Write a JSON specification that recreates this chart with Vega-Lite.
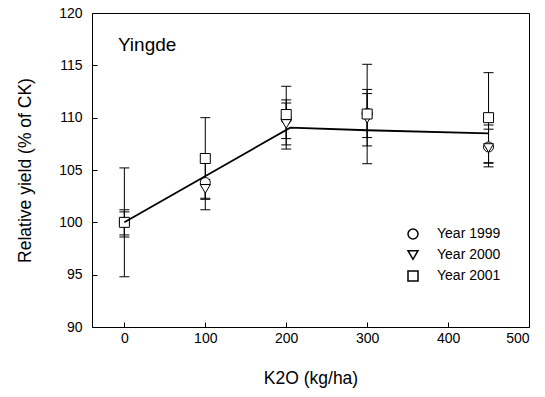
{
  "$schema": "https://vega.github.io/schema/vega-lite/v6.json",
  "width": 437,
  "height": 314,
  "autosize": {"type": "none"},
  "padding": {"left": 92, "top": 13, "right": 16, "bottom": 70},
  "background": "white",
  "datasets": {
    "obs": [
      {"year": "Year 1999", "k": 0, "mean": 100.0, "lo": 98.8, "hi": 101.2},
      {"year": "Year 1999", "k": 100, "mean": 103.8, "lo": 101.2, "hi": 106.4},
      {"year": "Year 1999", "k": 200, "mean": 109.85, "lo": 108.0, "hi": 111.7},
      {"year": "Year 1999", "k": 300, "mean": 110.4, "lo": 108.1, "hi": 112.7},
      {"year": "Year 1999", "k": 450, "mean": 107.2, "lo": 105.3, "hi": 109.3},
      {"year": "Year 2000", "k": 0, "mean": 99.9, "lo": 98.6, "hi": 101.0},
      {"year": "Year 2000", "k": 100, "mean": 103.2, "lo": 102.3, "hi": 104.1},
      {"year": "Year 2000", "k": 200, "mean": 109.4, "lo": 107.0, "hi": 111.4},
      {"year": "Year 2000", "k": 300, "mean": 109.9, "lo": 107.3, "hi": 112.3},
      {"year": "Year 2000", "k": 450, "mean": 107.1, "lo": 105.65, "hi": 108.9},
      {"year": "Year 2001", "k": 0, "mean": 100.0, "lo": 94.8, "hi": 105.2},
      {"year": "Year 2001", "k": 100, "mean": 106.1, "lo": 102.2, "hi": 110.0},
      {"year": "Year 2001", "k": 200, "mean": 110.3, "lo": 107.4, "hi": 113.0},
      {"year": "Year 2001", "k": 300, "mean": 110.35, "lo": 105.6, "hi": 115.1},
      {"year": "Year 2001", "k": 450, "mean": 110.0, "lo": 105.7, "hi": 114.3}
    ],
    "fit": [
      {"k": 0, "y": 100.0},
      {"k": 205, "y": 109.05},
      {"k": 300, "y": 108.8},
      {"k": 450, "y": 108.5}
    ],
    "label": [{"k": -8, "y": 116.9, "text": "Yingde"}]
  },
  "layer": [
    {
      "data": {"name": "obs"},
      "mark": {"type": "rule", "color": "black", "strokeWidth": 1},
      "encoding": {
        "x": {"field": "k", "type": "quantitative", "scale": {"domain": [-40, 500], "nice": false, "zero": false}, "axis": {"values": [0, 100, 200, 300, 400, 500], "title": "K2O (kg/ha)"}},
        "y": {"field": "lo", "type": "quantitative", "scale": {"domain": [90, 120], "nice": false, "zero": false}, "axis": {"values": [90, 95, 100, 105, 110, 115, 120], "title": "Relative yield (% of CK)"}},
        "y2": {"field": "hi"}
      }
    },
    {
      "data": {"name": "obs"},
      "mark": {"type": "tick", "orient": "horizontal", "size": 10, "thickness": 1, "color": "black", "opacity": 1},
      "encoding": {
        "x": {"field": "k", "type": "quantitative"},
        "y": {"field": "lo", "type": "quantitative"}
      }
    },
    {
      "data": {"name": "obs"},
      "mark": {"type": "tick", "orient": "horizontal", "size": 10, "thickness": 1, "color": "black", "opacity": 1},
      "encoding": {
        "x": {"field": "k", "type": "quantitative"},
        "y": {"field": "hi", "type": "quantitative"}
      }
    },
    {
      "data": {"name": "obs"},
      "mark": {"type": "point", "filled": true, "fill": "white", "stroke": "black", "strokeWidth": 1, "size": 100, "opacity": 1, "fillOpacity": 1},
      "encoding": {
        "x": {"field": "k", "type": "quantitative"},
        "y": {"field": "mean", "type": "quantitative"},
        "shape": {
          "field": "year", "type": "nominal",
          "scale": {"domain": ["Year 1999", "Year 2000", "Year 2001"], "range": ["circle", "triangle-down", "square"]},
          "legend": {
            "title": null, "orient": "none", "legendX": 314, "legendY": 214, "padding": 0, "rowPadding": 5, "labelOffset": 17,
            "symbolSize": 100, "labelFontSize": 14, "labelFont": "Liberation Sans", "labelColor": "black",
            "encode": {"symbols": {"update": {"fill": {"value": "white"}, "stroke": {"value": "black"}, "strokeWidth": {"value": 1}, "opacity": {"value": 1}, "fillOpacity": {"value": 1}, "strokeOpacity": {"value": 1}}}}
          }
        }
      }
    },
    {
      "data": {"name": "fit"},
      "mark": {"type": "line", "color": "black", "strokeWidth": 1.8},
      "encoding": {
        "x": {"field": "k", "type": "quantitative"},
        "y": {"field": "y", "type": "quantitative"}
      }
    },
    {
      "data": {"name": "label"},
      "mark": {"type": "text", "align": "left", "baseline": "middle", "font": "Liberation Sans", "fontSize": 19, "color": "black"},
      "encoding": {
        "x": {"field": "k", "type": "quantitative"},
        "y": {"field": "y", "type": "quantitative"},
        "text": {"field": "text"}
      }
    }
  ],
  "config": {
    "view": {"stroke": "black", "strokeWidth": 1},
    "axis": {
      "domain": false,
      "grid": false,
      "tickColor": "black",
      "tickSize": -5,
      "tickWidth": 1,
      "labelFont": "Liberation Sans",
      "labelFontSize": 14,
      "labelColor": "black",
      "titleFont": "Liberation Sans",
      "titleFontSize": 17.5,
      "titleFontWeight": "normal",
      "titleColor": "black"
    },
    "axisX": {"labelPadding": 9, "titlePadding": 24},
    "axisY": {"labelPadding": 15, "titlePadding": 24}
  }
}
